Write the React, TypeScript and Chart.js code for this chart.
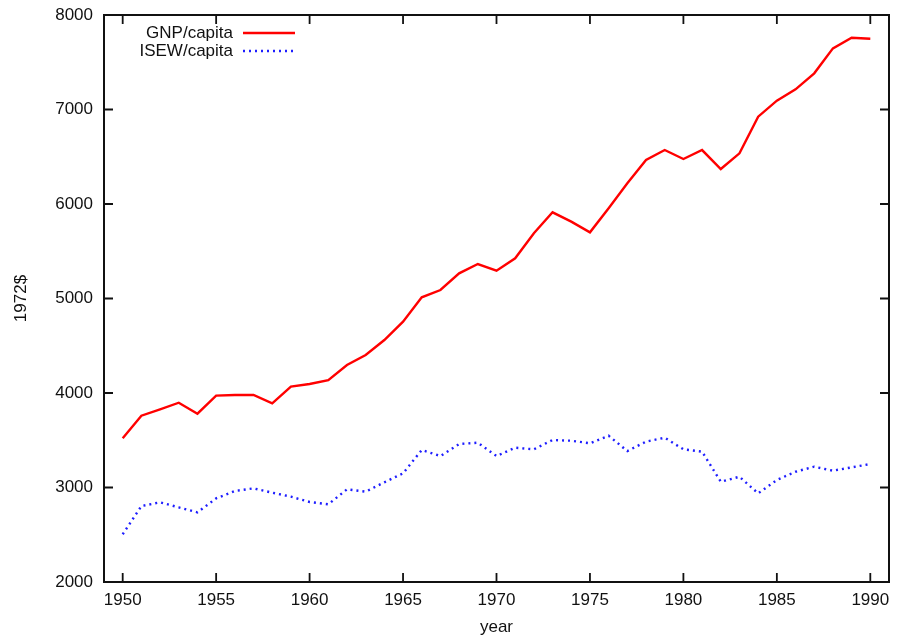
import React, { useEffect, useRef } from 'react';
import { Chart, registerables } from 'chart.js';

Chart.register(...registerables);

const years = [
  1950, 1951, 1952, 1953, 1954, 1955, 1956, 1957, 1958, 1959,
  1960, 1961, 1962, 1963, 1964, 1965, 1966, 1967, 1968, 1969,
  1970, 1971, 1972, 1973, 1974, 1975, 1976, 1977, 1978, 1979,
  1980, 1981, 1982, 1983, 1984, 1985, 1986, 1987, 1988, 1989, 1990,
];

const gnpPerCapita = [
  3521, 3760, 3827, 3897, 3781, 3972, 3979, 3979, 3891, 4067,
  4095, 4135, 4296, 4402, 4561, 4755, 5013, 5090, 5266, 5365,
  5294, 5425, 5690, 5912, 5813, 5700, 5954, 6219, 6466, 6571,
  6476, 6571, 6370, 6536, 6924, 7093, 7213, 7383, 7647, 7760, 7749,
];

const isewPerCapita = [
  2505, 2804, 2843, 2790, 2737, 2885, 2963, 2991, 2945, 2903,
  2847, 2822, 2981, 2956, 3055, 3150, 3397, 3333, 3460, 3474,
  3333, 3421, 3404, 3503, 3495, 3468, 3548, 3386, 3485, 3527,
  3404, 3379, 3061, 3114, 2938, 3079, 3167, 3220, 3178, 3213, 3249,
];

const xTicks = [1950, 1955, 1960, 1965, 1970, 1975, 1980, 1985, 1990];
const yTicks = [2000, 3000, 4000, 5000, 6000, 7000, 8000];

const seriesLabels = ['GNP/capita', 'ISEW/capita'];
const xTitle = 'year';
const yTitle = '1972$';

const FONT = '"Liberation Sans", Arial, Helvetica, sans-serif';
const TEXT = '#111111';

const gnuplotPlugin = {
  id: 'gnuplotFrame',
  afterDraw(chart: any) {
    const { ctx, chartArea: a, scales } = chart;
    const xs = scales.x;
    const ys = scales.y;
    ctx.save();
    ctx.strokeStyle = TEXT;
    ctx.lineWidth = 2;
    ctx.strokeRect(a.left, a.top, a.right - a.left, a.bottom - a.top);
    ctx.lineWidth = 1.8;
    const L = 9;
    ctx.beginPath();
    xTicks.forEach((v) => {
      const px = xs.getPixelForValue(v);
      ctx.moveTo(px, a.bottom);
      ctx.lineTo(px, a.bottom - L);
      ctx.moveTo(px, a.top);
      ctx.lineTo(px, a.top + L);
    });
    yTicks.forEach((v) => {
      const py = ys.getPixelForValue(v);
      ctx.moveTo(a.left, py);
      ctx.lineTo(a.left + L, py);
      ctx.moveTo(a.right, py);
      ctx.lineTo(a.right - L, py);
    });
    ctx.stroke();

    // legend (gnuplot style: text right-aligned, sample to the right)
    const textRight = a.left + 129;
    const sampleStart = a.left + 139;
    const sampleEnd = a.left + 191;
    const rows = [a.top + 18, a.top + 36];
    ctx.font = `17px ${FONT}`;
    ctx.fillStyle = TEXT;
    ctx.textAlign = 'right';
    ctx.textBaseline = 'middle';
    chart.data.datasets.forEach((ds: any, i: number) => {
      const y = rows[i];
      ctx.fillText(ds.label, textRight, y);
      ctx.save();
      ctx.strokeStyle = ds.borderColor;
      ctx.lineWidth = ds.borderWidth;
      ctx.lineCap = 'butt';
      ctx.setLineDash(ds.borderDash || []);
      ctx.beginPath();
      ctx.moveTo(sampleStart, y);
      ctx.lineTo(sampleEnd, y);
      ctx.stroke();
      ctx.restore();
    });
    ctx.restore();
  },
};

export default function App() {
  const ref = useRef<HTMLCanvasElement | null>(null);

  useEffect(() => {
    if (!ref.current) return;
    const chart = new Chart(ref.current, {
      type: 'line',
      data: {
        datasets: [
          {
            label: seriesLabels[0],
            data: years.map((x, i) => ({ x, y: gnpPerCapita[i] })),
            borderColor: '#ff0000',
            borderWidth: 2.4,
            pointRadius: 0,
            tension: 0,
            fill: false,
          },
          {
            label: seriesLabels[1],
            data: years.map((x, i) => ({ x, y: isewPerCapita[i] })),
            borderColor: '#1e1eff',
            borderWidth: 2.4,
            borderDash: [2, 4],
            borderCapStyle: 'butt',
            pointRadius: 0,
            tension: 0,
            fill: false,
          },
        ],
      },
      options: {
        animation: false,
        responsive: false,
        devicePixelRatio: 1,
        layout: { padding: { top: 15, right: 9, left: 0, bottom: 0 } },
        plugins: {
          legend: { display: false },
          tooltip: { enabled: false },
        },
        scales: {
          x: {
            type: 'linear',
            min: 1949,
            max: 1991,
            grid: { display: false, drawTicks: false },
            border: { display: false },
            afterBuildTicks: (s: any) => {
              s.ticks = xTicks.map((v) => ({ value: v }));
            },
            ticks: {
              padding: 8,
              color: TEXT,
              font: { family: FONT, size: 17 },
              maxRotation: 0,
              autoSkip: false,
              callback: (v: any) => String(v),
            },
            title: {
              display: true,
              text: xTitle,
              color: TEXT,
              font: { family: FONT, size: 17 },
              padding: { top: 0, bottom: 2 },
            },
            afterFit: (s: any) => {
              s.height = 58;
              s.paddingLeft = 0;
              s.paddingRight = 0;
            },
          },
          y: {
            type: 'linear',
            min: 2000,
            max: 8000,
            grid: { display: false, drawTicks: false },
            border: { display: false },
            afterBuildTicks: (s: any) => {
              s.ticks = yTicks.map((v) => ({ value: v }));
            },
            ticks: {
              padding: 11,
              color: TEXT,
              font: { family: FONT, size: 17 },
              autoSkip: false,
              callback: (v: any) => String(v),
            },
            title: {
              display: true,
              text: yTitle,
              color: TEXT,
              font: { family: FONT, size: 17 },
              padding: { top: 11, bottom: 0 },
            },
            afterFit: (s: any) => {
              s.width = 104;
              s.paddingTop = 0;
              s.paddingBottom = 0;
            },
          },
        },
      },
      plugins: [gnuplotPlugin],
    } as any);
    return () => chart.destroy();
  }, []);

  return (
    <div style={{ position: 'absolute', left: 0, top: 0, width: 898, height: 640, background: '#fff' }}>
      <canvas ref={ref} width={898} height={640} style={{ width: 898, height: 640, display: 'block' }} />
    </div>
  );
}
